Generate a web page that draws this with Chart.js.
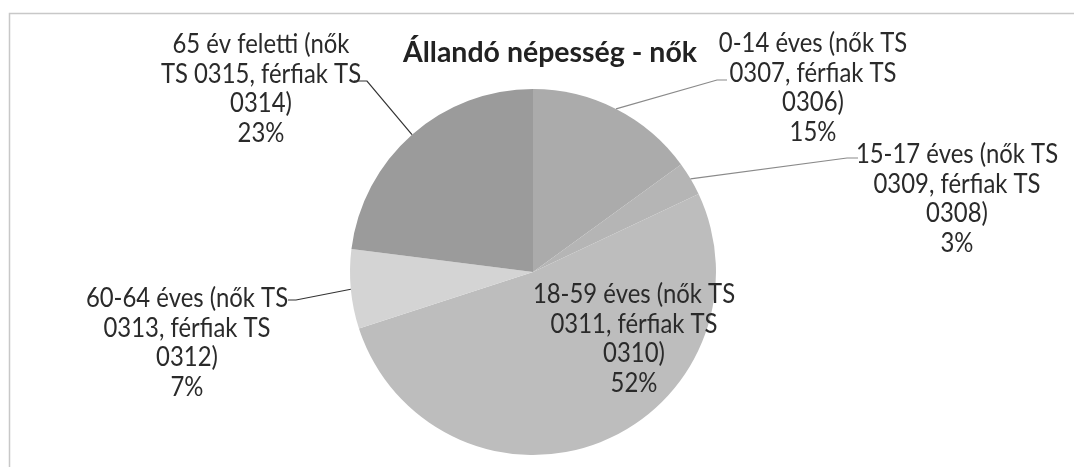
<!DOCTYPE html>
<html>
<head>
<meta charset="utf-8">
<script src="https://cdn.jsdelivr.net/npm/chart.js@4.4.0/dist/chart.umd.min.js"></script>
<style>
  html, body { margin: 0; padding: 0; background: #fff; }
  #wrap { width: 1074px; height: 467px; }
</style>
</head>
<body>
<div id="wrap"><canvas id="chart" width="1074" height="467"></canvas></div>
<script>
const chartTitle = 'Állandó népesség - nők';

// category names, split the way the labels wrap in the picture
const categories = [
    ['0-14 éves (nők TS', '0307, férfiak TS', '0306)'],
    ['15-17 éves (nők TS', '0309, férfiak TS', '0308)'],
    ['18-59 éves (nők TS', '0311, férfiak TS', '0310)'],
    ['60-64 éves (nők TS', '0313, férfiak TS', '0312)'],
    ['65 év feletti (nők', 'TS 0315, férfiak TS', '0314)']
];
const shares = [15, 3, 52, 7, 23];
const sliceColors = ['#ababab', '#b5b5b5', '#bdbdbd', '#d4d4d4', '#9b9b9b'];

// label placement (centre of first line) and the bend points of each leader line
const labelBoxes = [
    {x: 813, y: 44, lead: [[717, 80], [727, 80]], leadColor: '#8a8a8a'},
    {x: 957, y: 155, lead: [[847, 158], [858, 158]], leadColor: '#8a8a8a'},
    {x: 634, y: 295, lead: [], leadColor: null},
    {x: 187, y: 299, lead: [[296, 300], [288, 300]], leadColor: '#333'},
    {x: 261, y: 45, lead: [[367, 81], [354, 81]], leadColor: '#333'}
];
const lineGap = 29.5;
const labelFont = 'Lato, "Open Sans", sans-serif';
const labelRefWidth = 177;   // width of "65 év feletti (nők" in the picture
const titleRefWidth = 294;

function percentText(i) {
    const total = shares.reduce((a, b) => a + b, 0);
    return Math.round(shares[i] / total * 100) + '%';
}

const framePlugin = {
    id: 'frame',
    beforeDraw(chart) {
        const ctx = chart.ctx;
        ctx.save();
        ctx.fillStyle = '#fff';
        ctx.fillRect(0, 0, chart.width, chart.height);
        ctx.strokeStyle = '#c8c8c8';
        ctx.lineWidth = 1.5;
        ctx.beginPath();
        ctx.moveTo(9.5, chart.height);
        ctx.lineTo(9.5, 13.5);
        ctx.lineTo(chart.width, 13.5);
        ctx.stroke();
        ctx.restore();
    }
};

const labelPlugin = {
    id: 'sliceLabels',
    afterDatasetsDraw(chart) {
        const ctx = chart.ctx;
        const arcs = chart.getDatasetMeta(0).data;
        ctx.save();

        // title
        ctx.font = 'bold 29px ' + labelFont;
        ctx.fillStyle = '#222';
        ctx.textAlign = 'center';
        ctx.textBaseline = 'middle';
        const tsx = titleRefWidth / ctx.measureText(chartTitle).width;
        ctx.save();
        ctx.translate(550, 53);
        ctx.scale(tsx, 1);
        ctx.fillText(chartTitle, 0, 0);
        ctx.restore();

        ctx.font = '26px ' + labelFont;
        const sx = labelRefWidth / ctx.measureText(categories[4][0]).width;

        arcs.forEach((arc, i) => {
            const p = arc.getProps(['x', 'y', 'startAngle', 'endAngle', 'outerRadius'], true);
            const mid = (p.startAngle + p.endAngle) / 2;
            const box = labelBoxes[i];
            if (box.lead.length) {
                ctx.beginPath();
                ctx.moveTo(p.x + Math.cos(mid) * p.outerRadius, p.y + Math.sin(mid) * p.outerRadius);
                box.lead.forEach(pt => ctx.lineTo(pt[0], pt[1]));
                ctx.strokeStyle = box.leadColor;
                ctx.lineWidth = 1.2;
                ctx.stroke();
            }
            const lines = categories[i].concat([percentText(i)]);
            ctx.fillStyle = '#2a2a2a';
            lines.forEach((t, k) => {
                ctx.save();
                ctx.translate(box.x, box.y + k * lineGap);
                ctx.scale(sx, 1);
                ctx.fillText(t, 0, 0);
                ctx.restore();
            });
        });
        ctx.restore();
    }
};

new Chart(document.getElementById('chart'), {
    type: 'pie',
    data: {
        labels: categories.map(c => c.join(' ')),
        datasets: [{
            data: shares,
            backgroundColor: sliceColors,
            borderWidth: 0
        }]
    },
    options: {
        responsive: false,
        animation: false,
        devicePixelRatio: 1,
        layout: {
            padding: {top: 89, bottom: 12, left: 0, right: 8}
        },
        plugins: {
            legend: {display: false},
            tooltip: {enabled: false},
            title: {display: false}
        }
    },
    plugins: [framePlugin, labelPlugin]
});
</script>
</body>
</html>
